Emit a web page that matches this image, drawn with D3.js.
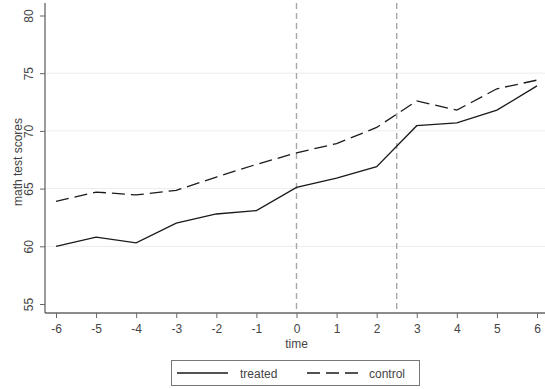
<!DOCTYPE html>
<html><head><meta charset="utf-8">
<script src="https://cdn.jsdelivr.net/npm/d3@7"></script>
<style>body{margin:0;background:#fff;} svg{display:block;font-family:"Liberation Sans",Arial,sans-serif;}</style>
</head><body>
<script>
const times = [-6,-5,-4,-3,-2,-1,0,1,2,3,4,5,6];
const treated = [60.0,60.8,60.3,62.0,62.8,63.1,65.1,65.9,66.9,70.45,70.7,71.8,73.9];
const control = [63.9,64.7,64.45,64.85,66.0,67.1,68.1,68.9,70.3,72.6,71.8,73.65,74.4];
const yTicks = [55,60,65,70,75,80];
const gridTicks = [60,65,70,75];
const refLines = [0,2.5];
const seriesNames = ["treated","control"];

(function(){
const W=545,H=389;
const svg=d3.select("body").append("svg").attr("width",W).attr("height",H);
const x=d3.scaleLinear().domain([-6,6]).range([56,537]);
const y=d3.scaleLinear().domain([55,80]).range([304,15.5]);
const pLeft=45, pBottom=313, pTop=3, pRight=545;
const fmt=d=>String(d);

svg.append("g").selectAll("line").data(gridTicks).join("line")
 .attr("x1",pLeft).attr("x2",pRight).attr("y1",d=>y(d)).attr("y2",d=>y(d))
 .attr("stroke","#ececec").attr("stroke-width",1);

svg.append("g").selectAll("line").data(refLines).join("line")
 .attr("x1",d=>x(d)).attr("x2",d=>x(d)).attr("y1",pTop).attr("y2",pBottom)
 .attr("stroke","#a8a8a8").attr("stroke-width",1.4).attr("stroke-dasharray","6,4");

const yAxis=svg.append("g").attr("transform",`translate(${pLeft},0)`)
 .call(d3.axisLeft(y).tickValues(yTicks).tickSize(5).tickPadding(3).tickFormat(fmt));
yAxis.select(".domain").attr("d",`M0,${pTop}V${pBottom}`).attr("stroke","#666").attr("stroke-width",1.3);
yAxis.selectAll(".tick line").attr("stroke","#666");
yAxis.selectAll(".tick text")
 .attr("x",null).attr("dy",null).attr("y",0)
 .attr("transform","translate(-12,0) rotate(-90)")
 .attr("text-anchor","middle").attr("font-size",12).attr("fill","#444");

const xAxis=svg.append("g").attr("transform",`translate(0,${pBottom})`)
 .call(d3.axisBottom(x).tickValues(times).tickSize(5).tickPadding(6).tickFormat(fmt));
xAxis.select(".domain").attr("d",`M${pLeft},0H${pRight}`).attr("stroke","#666").attr("stroke-width",1.3);
xAxis.selectAll(".tick line").attr("stroke","#666");
xAxis.selectAll(".tick text").attr("font-size",12).attr("fill","#444");

svg.append("text").attr("x",x(0)).attr("y",348).attr("text-anchor","middle")
 .attr("font-size",12).attr("fill","#444").text("time");
svg.append("text").attr("transform","translate(22,162) rotate(-90)").attr("text-anchor","middle")
 .attr("font-size",12).attr("fill","#444").text("math test scores");

const line=d3.line().x((d,i)=>x(times[i])).y(d=>y(d));
svg.append("path").datum(treated).attr("d",line).attr("fill","none")
 .attr("stroke","#1a1a1a").attr("stroke-width",1.3);
svg.append("path").datum(control).attr("d",line).attr("fill","none")
 .attr("stroke","#1a1a1a").attr("stroke-width",1.3).attr("stroke-dasharray","13,6");

const lg=svg.append("g");
lg.append("rect").attr("x",171.5).attr("y",360.5).attr("width",248).attr("height",25)
 .attr("fill","#fff").attr("stroke","#777").attr("stroke-width",1);
lg.append("line").attr("x1",177).attr("x2",228).attr("y1",373).attr("y2",373)
 .attr("stroke","#1a1a1a").attr("stroke-width",1.3);
lg.append("text").attr("x",240).attr("y",378).attr("font-size",12).attr("fill","#444").text(seriesNames[0]);
lg.append("line").attr("x1",307).attr("x2",364).attr("y1",373).attr("y2",373)
 .attr("stroke","#1a1a1a").attr("stroke-width",1.3).attr("stroke-dasharray","13,6");
lg.append("text").attr("x",369).attr("y",378).attr("font-size",12).attr("fill","#444").text(seriesNames[1]);
})();
</script>
</body></html>
